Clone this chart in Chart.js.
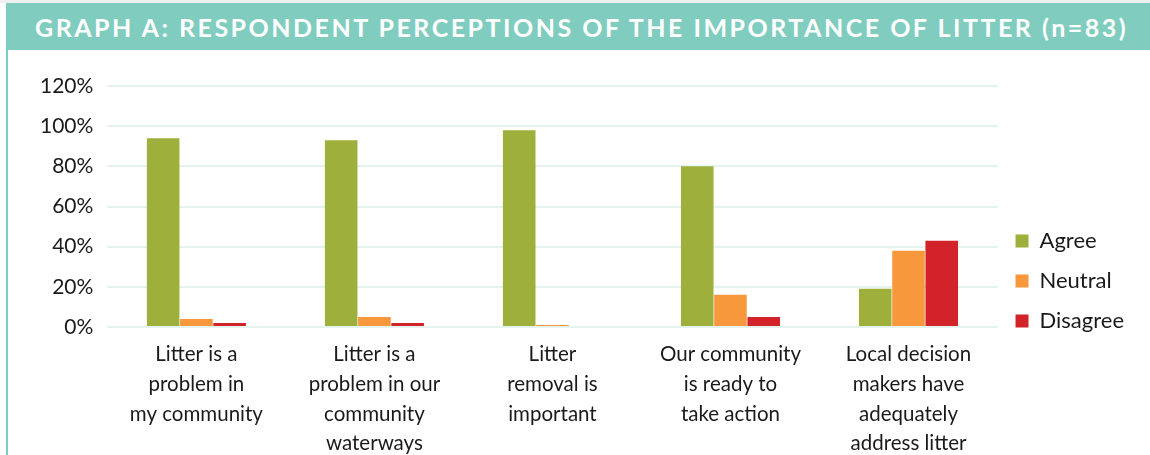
<!DOCTYPE html>
<html>
<head>
<meta charset="utf-8">
<script src="https://cdn.jsdelivr.net/npm/chart.js@4"></script>
<style>
  html, body { margin:0; padding:0; background:#fff; }
  body { width:1150px; height:455px; position:relative; overflow:hidden; font-family:Lato, "Noto Sans", sans-serif; }
  #topline { position:absolute; left:0; top:0; width:1150px; height:3px; background:#eef1f0; }
  #banner { position:absolute; left:6px; top:3px; right:0; height:47px; background:#80cdc0; }
  #title { position:absolute; left:35px; top:3px; height:47px; line-height:49px; color:#fff; font-weight:700; font-size:25px; letter-spacing:2.5px; white-space:nowrap; }
  #leftbar { position:absolute; left:6px; top:50px; width:2px; bottom:0; background:#80cdc0; }
  #wrap { position:absolute; left:8px; top:50px; width:1142px; height:426px; }
</style>
</head>
<body>
<div id="topline"></div>
<div id="banner"></div>
<div id="title">GRAPH A: RESPONDENT PERCEPTIONS OF THE IMPORTANCE OF LITTER (n=83)</div>
<div id="leftbar"></div>
<div id="wrap"><canvas id="c" width="1142" height="426"></canvas></div>
<script>
const categories = [
  ["Litter is a", "problem in", "my community"],
  ["Litter is a", "problem in our", "community", "waterways"],
  ["Litter", "removal is", "important"],
  ["Our community", "is ready to", "take action"],
  ["Local decision", "makers have", "adequately", "address litter"]
];
const seriesNames = ["Agree", "Neutral", "Disagree"];
const agree = [94, 93, 98, 80, 19];
const neutral = [4, 5, 1, 16, 38];
const disagree = [2, 2, 0, 5, 43];
const seriesColors = ["#9faf3b", "#f7983d", "#d2232a"];
const yTicks = [0, 20, 40, 60, 80, 100, 120];

const values = [agree, neutral, disagree];
new Chart(document.getElementById('c'), {
  type: 'bar',
  data: {
    labels: categories,
    datasets: seriesNames.map((n, i) => ({
      label: n,
      data: values[i],
      backgroundColor: seriesColors[i],
      borderWidth: 0,
      categoryPercentage: 0.56,
      barPercentage: 0.98
    }))
  },
  options: {
    responsive: false,
    animation: false,
    layout: { padding: { left: 18, right: 16, top: 36, bottom: 0 } },
    plugins: {
      tooltip: { enabled: false },
      legend: {
        position: 'right',
        align: 'center',
        labels: {
          boxWidth: 13, boxHeight: 13, padding: 18,
          color: '#1a1a1a',
          font: { family: 'Lato', size: 22 }
        }
      }
    },
    scales: {
      x: {
        grid: { display: false },
        border: { display: false },
        afterFit: (s) => { s.height = 149; },
        ticks: {
          color: '#1a1a1a', maxRotation: 0, autoSkip: false, padding: 5,
          font: { family: 'Lato', size: 20.5, lineHeight: 1.444 }
        }
      },
      y: {
        min: 0, max: 120,
        afterBuildTicks: (s) => { s.ticks = yTicks.map(v => ({ value: v })); },
        grid: { color: '#e4f3ee', lineWidth: 2, drawTicks: false },
        border: { display: false },
        ticks: {
          color: '#1a1a1a', padding: 14,
          font: { family: 'Lato', size: 21 },
          callback: (v) => v + '%'
        }
      }
    }
  }
});
</script>
</body>
</html>
